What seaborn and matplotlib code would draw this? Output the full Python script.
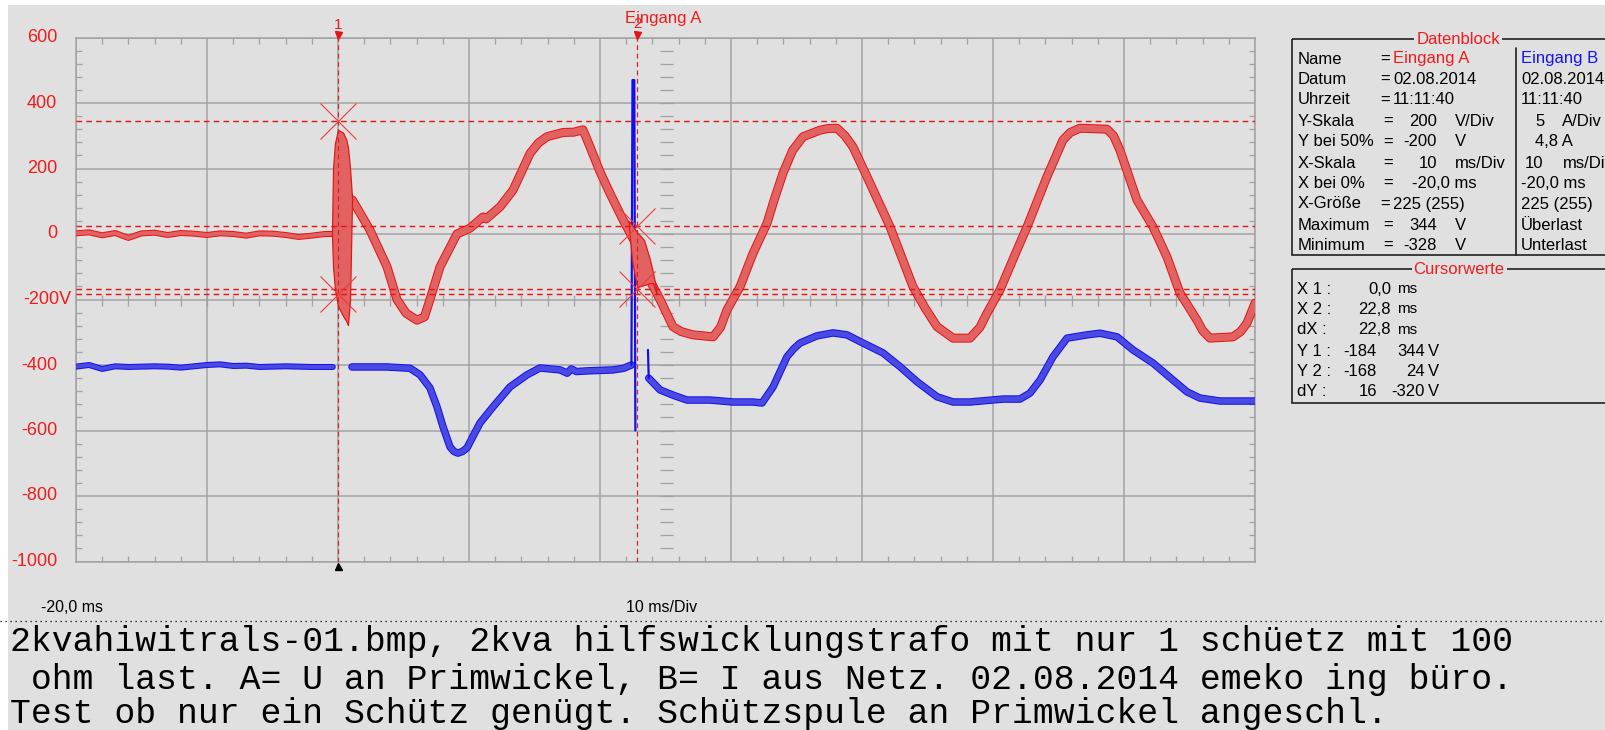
import numpy as np
import pandas as pd
import matplotlib
matplotlib.use("Agg")
import matplotlib.pyplot as plt
import matplotlib.patheffects as pe
from matplotlib.patches import Rectangle
from matplotlib.lines import Line2D
from matplotlib.ticker import MultipleLocator
import seaborn as sns

# ---------------- recorded traces (time in ms, values in screen volts) ----------------
# Channel A (voltage at primary winding) before the trigger
a_pre_t = [-20, -19, -18, -17, -16, -15, -14, -13, -12, -11, -10, -9, -8, -7, -6, -5, -4, -3, -2, -1, -0.5]
a_pre_v = [2, 5, -4, 3, -12, 2, 4, -3, 3, 1, -3, 2, 0, -5, 2, 1, -3, -9, -5, 0, 0]

# Channel A after switching on
a_post_t = [1.1, 2.44, 3.74, 4.50, 5.2, 6.03, 6.6, 7.02, 7.79, 9.08,
            10.08, 11.07, 11.3, 12.37, 13.36, 14.66, 15.3, 15.95, 17.18, 18.0,
            18.7, 19.24, 20.0, 20.76, 21.76, 22.6, 23.4, 24.58, 25.57, 26.2,
            27.10, 28.63, 29.2, 29.69, 30.69, 31.68, 32.75, 33.3, 33.97, 34.7,
            35.50, 36.79, 37.4, 38.09, 38.7, 39.31, 40.38, 42.14, 43.89, 44.8,
            45.73, 46.95, 48.24, 49.0, 49.54, 50.53, 51.83, 52.60, 54.12, 55.34,
            55.9, 56.64, 58.70, 59.2, 59.69, 60.99, 62.21, 63.28, 64.27, 65.57,
            66.0, 66.56, 68.32, 68.9, 69.39, 70.0]
a_post_v = [104, 12, -100, -200, -242, -263, -253, -200, -100, 0,
            18, 52, 46, 83, 134, 246, 278, 297, 310, 311,
            318, 266, 190, 124, 43, -20, -110, -200, -283, -298,
            -308, -314, -285, -232, -161, -59, 33, 105, 186, 255,
            297, 317, 322, 323, 300, 266, 175, 22, -161, -225,
            -283, -318, -318, -285, -242, -171, -49, 22, 175, 287,
            310, 323, 320, 300, 256, 104, 22, -70, -180, -263,
            -295, -318, -314, -298, -272, -211]

# Channel A min/max envelope of the two switching transients
a_burst1_t = [-0.46, -0.38, -0.23, 0.0, 0.38, 0.62, 0.76, 0.92, 1.07]
a_burst1_lo = [-5, -100, -170, -220, -250, -265, -278, -200, 100]
a_burst1_hi = [5, 200, 278, 318, 310, 290, 265, 200, 112]

a_burst2_t = [22.2, 22.44, 22.82, 23.36, 23.82, 24.05, 24.3]
a_burst2_lo = [25, -79, -162, -156, -150, -150, -180]
a_burst2_hi = [40, 27, 6, -18, -79, -119, -170]

# Channel B (mains current) drawn on the same screen scale
b_pre_t = [-20, -19, -18, -17, -16, -15, -14, -13, -12, -11, -10, -9, -8, -7, -6, -5, -4, -3, -2, -1, -0.4]
b_pre_v = [-405, -400, -412, -404, -406, -405, -404, -405, -408, -404, -400, -398, -403, -402, -406,
           -405, -404, -405, -406, -406, -406]

b_mid_t = [1.07, 3.74, 5.50, 6.26, 7.02, 7.56, 8.02, 8.55, 8.85, 9.16, 9.5, 9.85,
           10.84, 11.83, 13.13, 14.43, 15.42, 16.95, 17.5, 17.8, 18.2, 19.01,
           20.99, 21.8, 22.4]
b_mid_v = [-406, -406, -410, -430, -470, -528, -589, -650, -664, -669, -664, -653,
           -577, -528, -467, -430, -409, -415, -425, -412, -420, -418,
           -415, -410, -400]

b_spike_t = [22.4, 22.48, 22.62, 22.7]
b_spike_v = [-400, 470, 470, -600]

b_kick_t = [23.66, 23.72]
b_kick_v = [-354, -440]

b_post_t = [23.72, 24.58, 25.57, 26.64, 28.40, 30.15, 31.68, 32.37, 33.21, 34.27,
            34.8, 35.27, 36.56, 37.79, 38.85, 40.08, 41.60, 42.90, 44.20, 45.73, 46.95,
            48.24, 50.76, 52.06, 52.82, 53.59, 54.58, 55.65, 57.18, 58.17, 59.47,
            60.69, 62.21, 63.74, 64.81, 65.80, 67.33, 70.0]
b_post_v = [-440, -476, -492, -507, -507, -513, -513, -516, -467, -375,
            -350, -333, -311, -302, -308, -333, -363, -405, -451, -497, -513,
            -513, -504, -504, -486, -446, -375, -318, -308, -303, -314,
            -354, -394, -446, -482, -501, -510, -510]

# Cursor settings
cursor_t = [0.0, 22.8]
cursor1_levels = [344, -184]
cursor2_levels = [24, -168]

# Axis labelling
y_ticks = [600, 400, 200, 0, -200, -400, -600, -800, -1000]
y_tick_labels = ["600", "400", "200", "0", "-200V", "-400", "-600", "-800", "-1000"]

# Text panels
daten_rows = ["Name", "Datum", "Uhrzeit", "Y-Skala", "Y bei 50%", "X-Skala",
              "X bei 0%", "X-Größe", "Maximum", "Minimum"]
cursor_rows = ["X 1 :", "X 2 :", "dX :", "Y 1 :", "Y 2 :", "dY :"]
caption_lines = [
    "2kvahiwitrals-01.bmp, 2kva hilfswicklungstrafo mit nur 1 schüetz mit 100",
    " ohm last. A= U an Primwickel, B= I aus Netz. 02.08.2014 emeko ing büro.",
    "Test ob nur ein Schütz genügt. Schützspule an Primwickel angeschl.",
]

# ---------------- style ----------------
sns.set_theme(style="white")
plt.rcParams['font.family'] = ['Liberation Sans', 'DejaVu Sans']

BG = '#e0e0e0'
GRID = '#a2a2a2'
RED_FILL = '#e26262'
RED_EDGE = '#e41414'
BLUE_FILL = '#4a4ae2'
BLUE_EDGE = '#1010ee'
LABEL_RED = '#ee1c1c'
PX = 0.72  # points per pixel at 100 dpi

W, H = 1605, 730
fig = plt.figure(figsize=(W / 100, H / 100), dpi=100, facecolor='white')
fig.add_artist(Rectangle((8 / W, 0), 1 - 8 / W, 1 - 5 / H, transform=fig.transFigure,
                         facecolor=BG, edgecolor='none', zorder=-10))

x0, x1, y0, y1 = 76, 1255, 37.5, 561.5
ax = fig.add_axes([x0 / W, 1 - y1 / H, (x1 - x0) / W, (y1 - y0) / H])
ax.set_facecolor(BG)
ax.set_xlim(-20, 70)
ax.set_ylim(-1000, 600)

# grid and frame
ax.set_xticks(np.arange(-20, 71, 10))
ax.set_yticks(y_ticks)
ax.xaxis.set_minor_locator(MultipleLocator(2))
ax.yaxis.set_minor_locator(MultipleLocator(40))
ax.grid(True, which='major', color=GRID, lw=1.5 * PX)
ax.tick_params(which='major', length=0, labelleft=False, labelbottom=False)
ax.tick_params(which='minor', direction='in', color=GRID, width=1.3 * PX,
               top=True, bottom=True, left=True, right=True, length=6 * PX)
for s in ax.spines.values():
    s.set_color(GRID)
    s.set_linewidth(1.5 * PX)

# centre cross ticks
ctr_x = np.arange(-18, 70, 2)
ax.plot(ctr_x, np.full(len(ctr_x), -200.0), ls='none', marker='|', ms=11 * PX,
        mew=1.3 * PX, color=GRID, zorder=1)
ctr_y = np.arange(-960, 600, 40)
ax.plot(np.full(len(ctr_y), 25.0), ctr_y, ls='none', marker='_', ms=13 * PX,
        mew=1.3 * PX, color=GRID, zorder=1)


def trace(t, v, fill, edge, width_px, z=3):
    sns.lineplot(x=t, y=v, ax=ax, color=fill, linewidth=(width_px - 2) * PX,
                 estimator=None, sort=False, zorder=z,
                 path_effects=[pe.Stroke(linewidth=width_px * PX, foreground=edge), pe.Normal()],
                 solid_joinstyle='round', solid_capstyle='round')


# channel B
trace(b_pre_t, b_pre_v, BLUE_FILL, BLUE_EDGE, 6)
trace(b_mid_t, b_mid_v, BLUE_FILL, BLUE_EDGE, 7.5)
trace(b_post_t, b_post_v, BLUE_FILL, BLUE_EDGE, 7.5)
sns.lineplot(x=b_spike_t, y=b_spike_v, ax=ax, color=BLUE_EDGE, linewidth=2.2 * PX,
             estimator=None, sort=False, zorder=3)
sns.lineplot(x=b_kick_t, y=b_kick_v, ax=ax, color=BLUE_EDGE, linewidth=2.2 * PX,
             estimator=None, sort=False, zorder=3)

# channel A
trace(a_pre_t, a_pre_v, RED_FILL, RED_EDGE, 6, z=4)
trace(a_post_t, a_post_v, RED_FILL, RED_EDGE, 9, z=4)
ax.fill_between(a_burst1_t, a_burst1_lo, a_burst1_hi, facecolor=RED_FILL,
                edgecolor=RED_EDGE, lw=1.2 * PX, zorder=4)
ax.fill_between(a_burst2_t, a_burst2_lo, a_burst2_hi, facecolor=RED_FILL,
                edgecolor=RED_EDGE, lw=1.2 * PX, zorder=4)

# cursors
for lv in cursor1_levels + cursor2_levels:
    ax.axhline(lv, color=RED_EDGE, lw=1.4 * PX, dashes=(4, 3), zorder=5)
for ct in cursor_t:
    ax.axvline(ct, color='#d42020', lw=1.2 * PX, dashes=(4, 3), zorder=5)
ax.plot([cursor_t[0]] * 2, cursor1_levels, ls='none', marker='x', ms=36 * PX,
        mew=1.1 * PX, color='#f03a3a', zorder=6)
ax.plot([cursor_t[1]] * 2, cursor2_levels, ls='none', marker='x', ms=36 * PX,
        mew=1.1 * PX, color='#f03a3a', zorder=6)
ax.plot(cursor_t, [609, 609], ls='none', marker='v', ms=7 * PX, color=RED_EDGE,
        clip_on=False, zorder=6)
ax.plot([cursor_t[0]], [-1014], ls='none', marker='^', ms=7 * PX, color='black',
        clip_on=False, zorder=6)

# y labels
for v, lab in zip(y_ticks, y_tick_labels):
    off = -5 if lab.endswith('V') else -19
    ax.annotate(lab, xy=(0, v), xycoords=ax.get_yaxis_transform(), xytext=(off, 0),
                textcoords='offset pixels', ha='right', va='center', color=LABEL_RED,
                fontsize=13, annotation_clip=False)

# ---------------- overlay in pixel coordinates ----------------
ov = fig.add_axes([0, 0, 1, 1], zorder=5)
ov.set_xlim(0, W)
ov.set_ylim(H, 0)
ov.axis('off')
ov.patch.set_alpha(0)

ov.text(338, 25, "1", color=LABEL_RED, fontsize=11, ha='center', va='center')
ov.text(637, 24, "2", color=LABEL_RED, fontsize=11, ha='center', va='center')
ov.text(625, 18, "Eingang A", color=LABEL_RED, fontsize=12, ha='left', va='center')

ov.text(41, 607, "-20,0 ms", color='black', fontsize=11.5, ha='left', va='center')
ov.text(626, 607, "10 ms/Div", color='black', fontsize=11.5, ha='left', va='center')
ov.add_line(Line2D([0, W], [621, 621], color='black', lw=0.9, dashes=(1, 3)))

for yy, line in zip([641, 679, 714], caption_lines):
    ov.text(10, yy, line, color='black', fontsize=25, ha='left', va='center',
            family=['Liberation Mono', 'DejaVu Sans Mono'])

# Datenblock panel
FS = 12
ov.add_patch(Rectangle((1292, 39), 420, 216, fill=False, edgecolor='#202020', lw=1.2))
ov.add_line(Line2D([1516, 1516], [48, 255], color='#202020', lw=1.2))
ov.text(1458, 39, "Datenblock", color=LABEL_RED, fontsize=FS, ha='center', va='center',
        bbox=dict(facecolor=BG, edgecolor='none', pad=1.5))
row_y = [59, 79, 100, 121, 142, 163, 183, 204, 225, 245]
for yy, lab in zip(row_y, daten_rows):
    ov.text(1298, yy, lab, fontsize=FS, ha='left', va='center', color='black')

a_col = ["Eingang A", "02.08.2014", "11:11:40"]
for yy, val in zip(row_y[:3], a_col):
    ov.text(1380, yy, "=", fontsize=FS, ha='left', va='center', color='black')
    ov.text(1393, yy, val, fontsize=FS, ha='left', va='center',
            color=LABEL_RED if val.startswith("Eingang") else 'black')
num_rows = [(3, "200", "V/Div"), (4, "-200", "V"), (5, "10", "ms/Div"),
            (8, "344", "V"), (9, "-328", "V")]
for idx, num, unit in num_rows:
    ov.text(1383, row_y[idx], "=", fontsize=FS, ha='left', va='center', color='black')
    ov.text(1437, row_y[idx], num, fontsize=FS, ha='right', va='center', color='black')
    ov.text(1455, row_y[idx], unit, fontsize=FS, ha='left', va='center', color='black')
ov.text(1383, row_y[6], "=", fontsize=FS, ha='left', va='center', color='black')
ov.text(1477, row_y[6], "-20,0 ms", fontsize=FS, ha='right', va='center', color='black')
ov.text(1380, row_y[7], "=", fontsize=FS, ha='left', va='center', color='black')
ov.text(1393, row_y[7], "225 (255)", fontsize=FS, ha='left', va='center', color='black')

b_col = [(1521, "Eingang B"), (1521, "02.08.2014"), (1521, "11:11:40"), (1535, "5"),
         (1535, "4,8 A"), (1525, "10"), (1521, "-20,0 ms"), (1521, "225 (255)"),
         (1521, "Überlast"), (1521, "Unterlast")]
for yy, (xx, val) in zip(row_y, b_col):
    ov.text(xx, yy, val, fontsize=FS, ha='left', va='center',
            color='#1414f0' if val.startswith("Eingang") else 'black')
ov.text(1562, row_y[3], "A/Div", fontsize=FS, ha='left', va='center', color='black')
ov.text(1563, row_y[5], "ms/Div", fontsize=FS, ha='left', va='center', color='black')

# Cursorwerte panel
ov.add_patch(Rectangle((1292, 269), 420, 134, fill=False, edgecolor='#202020', lw=1.2))
ov.text(1459, 269, "Cursorwerte", color=LABEL_RED, fontsize=FS, ha='center', va='center',
        bbox=dict(facecolor=BG, edgecolor='none', pad=1.5))
c_y = [289, 309, 330, 351, 372, 392]
for yy, lab in zip(c_y, cursor_rows):
    ov.text(1297, yy, lab, fontsize=FS, ha='left', va='center', color='black')
x_vals = ["0,0", "22,8", "22,8"]
for yy, val in zip(c_y[:3], x_vals):
    ov.text(1391, yy, val, fontsize=FS, ha='right', va='center', color='black')
    ov.text(1397, yy, "ms", fontsize=FS - 1, ha='left', va='center', color='black')
y_vals = [("-184", "344"), ("-168", "24"), ("16", "-320")]
for yy, (vb, va) in zip(c_y[3:], y_vals):
    ov.text(1377, yy, vb, fontsize=FS, ha='right', va='center', color='black')
    ov.text(1425, yy, va, fontsize=FS, ha='right', va='center', color='black')
    ov.text(1428, yy, "V", fontsize=FS, ha='left', va='center', color='black')

fig.savefig("out.png", dpi=100, facecolor=fig.get_facecolor())
